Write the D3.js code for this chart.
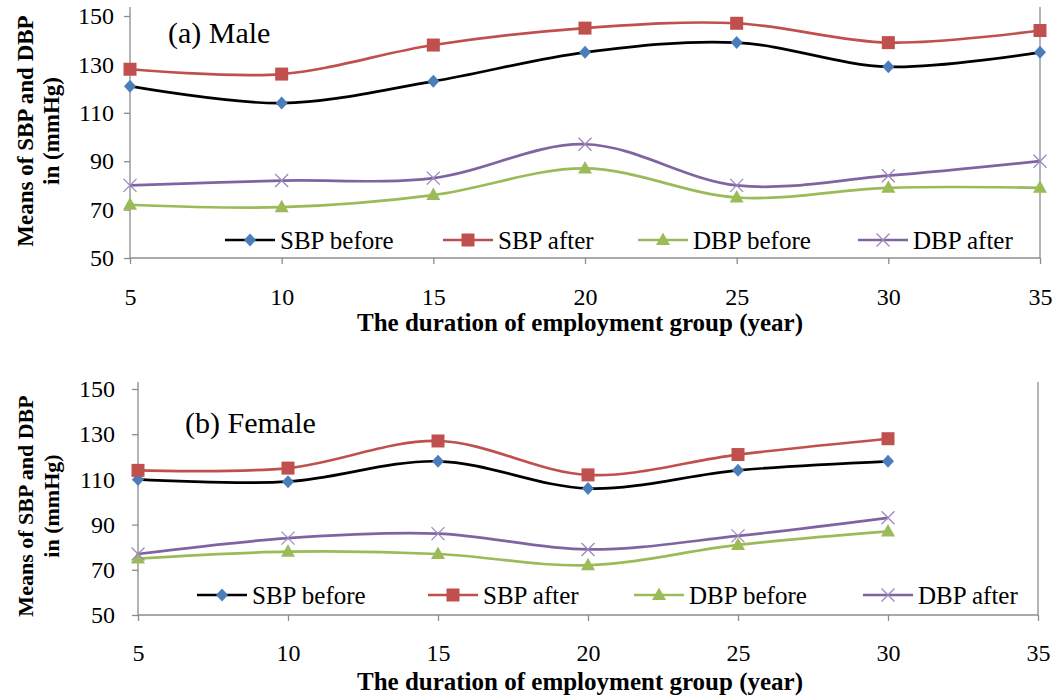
<!DOCTYPE html>
<html><head><meta charset="utf-8">
<script src="https://cdn.jsdelivr.net/npm/d3@7"></script>
<style>
html,body{margin:0;padding:0;background:#fff;}
</style></head>
<body><svg id="chart" width="1057" height="700" font-family="Liberation Serif"></svg>
<script>
const FONT = "Liberation Serif";
const xTickValues = [5,10,15,20,25,30,35];
const yTickValues = [50,70,90,110,130,150];
const seriesNames = ["SBP before","SBP after","DBP before","DBP after"];
const maleYears = [5,10,15,20,25,30,35];
const maleSBPBefore = [121,114,123,135,139,129,135];
const maleSBPAfter  = [128,126,138,145,147,139,144];
const maleDBPBefore = [72,71,76,87,75,79,79];
const maleDBPAfter  = [80,82,83,97,80,84,90];
const femaleYears = [5,10,15,20,25,30];
const femaleSBPBefore = [110,109,118,106,114,118];
const femaleSBPAfter  = [114,115,127,112,121,128];
const femaleDBPBefore = [75,78,77,72,81,87];
const femaleDBPAfter  = [77,84,86,79,85,93];

const styles = [
  {line:"#000000", fill:"#4A7EBB", marker:"diamond"},
  {line:"#C0504D", fill:"#C0504D", marker:"square"},
  {line:"#9BBB59", fill:"#9BBB59", marker:"triangle"},
  {line:"#8064A2", fill:"#9C88BE", marker:"x"}
];

const svg = d3.select("#chart");

function drawMarker(g, type, x, y, fill) {
  if (type === "diamond") {
    g.append("path").attr("d", `M${x},${y-6.5}L${x+6},${y}L${x},${y+6.5}L${x-6},${y}Z`).attr("fill", fill);
  } else if (type === "square") {
    g.append("rect").attr("x", x-6.5).attr("y", y-6.5).attr("width",13).attr("height",13).attr("fill", fill);
  } else if (type === "triangle") {
    g.append("path").attr("d", `M${x},${y-7.5}L${x+7},${y+5}L${x-7},${y+5}Z`).attr("fill", fill);
  } else {
    g.append("path").attr("d", `M${x-6.5},${y-6.5}L${x+6.5},${y+6.5}M${x-6.5},${y+6.5}L${x+6.5},${y-6.5}`)
     .attr("stroke", fill).attr("stroke-width", 1.3).attr("fill","none");
  }
}

function panel(cfg) {
  const x = d3.scaleLinear().domain([5,35]).range([cfg.x0, cfg.x1]);
  const y = d3.scaleLinear().domain([50,150]).range([cfg.yb, cfg.yt]);
  const g = svg.append("g");

  g.append("line").attr("x1", x(35)).attr("x2", x(35)).attr("y1", cfg.top).attr("y2", y(50))
    .attr("stroke","#8c8c8c").attr("stroke-width",1.3);

  const ya = g.append("g").attr("transform",`translate(${x(5)},0)`)
    .call(d3.axisLeft(y).tickValues(yTickValues).tickSize(6).tickPadding(cfg.yPad).tickFormat(d3.format("d")));
  ya.attr("font-family", FONT);
  ya.select(".domain").attr("d", `M0,${cfg.top}V${y(50)}`).attr("stroke","#8c8c8c").attr("stroke-width",1.3);
  ya.selectAll(".tick line").attr("stroke","#8c8c8c").attr("stroke-width",1.3);
  ya.selectAll("text").attr("font-size", 24).attr("fill","#000").attr("font-family", FONT);

  const xa = g.append("g").attr("transform",`translate(0,${y(50)})`)
    .call(d3.axisBottom(x).tickValues(xTickValues).tickSize(6).tickPadding(cfg.xPad).tickFormat(d3.format("d")));
  xa.attr("font-family", FONT);
  xa.select(".domain").attr("d", `M${x(5)},0H${x(35)}`).attr("stroke","#8c8c8c").attr("stroke-width",1.3);
  xa.selectAll(".tick line").attr("stroke","#8c8c8c").attr("stroke-width",1.3);
  xa.selectAll("text").attr("font-size", 24).attr("fill","#000").attr("font-family", FONT);

  const line = d3.line().x(d=>x(d[0])).y(d=>y(d[1])).curve(d3.curveCardinal.tension(0));
  cfg.series.forEach((vals, i) => {
    const pts = cfg.years.map((yr, j) => [yr, vals[j]]);
    g.append("path").datum(pts).attr("d", line).attr("fill","none")
      .attr("stroke", styles[i].line).attr("stroke-width", 2.7);
  });
  cfg.series.forEach((vals, i) => {
    cfg.years.forEach((yr, j) => drawMarker(g, styles[i].marker, x(yr), y(vals[j]), styles[i].fill));
  });

  const lg = g.append("g");
  seriesNames.forEach((name, i) => {
    const tx = cfg.legendTextX[i], ly = cfg.legendY, lx = tx - 55;
    lg.append("line").attr("x1", lx).attr("x2", lx+50).attr("y1", ly).attr("y2", ly)
      .attr("stroke", styles[i].line).attr("stroke-width", 2.7);
    drawMarker(lg, styles[i].marker, lx+25, ly, styles[i].fill);
    lg.append("text").attr("x", tx).attr("y", ly).attr("dy","0.35em")
      .attr("font-family", FONT).attr("font-size", 25).text(name);
  });

  g.append("text").attr("x", cfg.labelX).attr("y", cfg.labelY)
    .attr("font-family", FONT).attr("font-size", 30).text(cfg.label);

  const yt = g.append("text").attr("transform",`translate(${cfg.ytX},${cfg.ytY}) rotate(-90)`)
    .attr("text-anchor","middle").attr("font-weight","bold").attr("font-size", cfg.ytSize).attr("font-family", FONT);
  yt.append("tspan").attr("x",0).attr("dy",0).text("Means of SBP and DBP");
  yt.append("tspan").attr("x",0).attr("dy",26).text("in (mmHg)");

  g.append("text").attr("x", cfg.xtX).attr("y", cfg.xtY).attr("text-anchor","middle")
    .attr("font-family", FONT).attr("font-weight","bold").attr("font-size", 25)
    .text("The duration of employment group (year)");
}

panel({x0:130, x1:1040, yt:16, yb:258, top:7, yPad:10, xPad:24,
  years: maleYears, series:[maleSBPBefore, maleSBPAfter, maleDBPBefore, maleDBPAfter],
  legendTextX:[280, 498, 693, 913], legendY:240,
  label:"(a) Male", labelX:168, labelY:43,
  ytX:33, ytY:131, ytSize:23, xtX:580, xtY:331});

panel({x0:138, x1:1038, yt:389, yb:615, top:382, yPad:17, xPad:23,
  years: femaleYears, series:[femaleSBPBefore, femaleSBPAfter, femaleDBPBefore, femaleDBPAfter],
  legendTextX:[252, 483, 689, 918], legendY:595,
  label:"(b) Female", labelX:185, labelY:433,
  ytX:33, ytY:506, ytSize:22, xtX:580, xtY:690});
</script></body></html>
